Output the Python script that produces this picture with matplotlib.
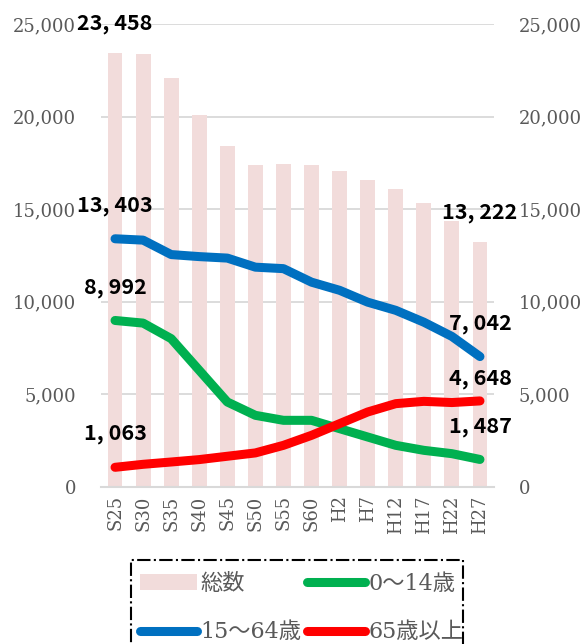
import matplotlib
matplotlib.use("Agg")
import matplotlib.pyplot as plt
from matplotlib.patches import Rectangle, Patch
from matplotlib.lines import Line2D

plt.rcParams["font.family"] = ["DejaVu Serif", "Noto Sans CJK JP"]

categories = ["S25", "S30", "S35", "S40", "S45", "S50", "S55", "S60",
              "H2", "H7", "H12", "H17", "H22", "H27"]
total = [23458, 23370, 22070, 20060, 18400, 17380, 17450, 17360,
         17040, 16550, 16100, 15330, 14340, 13222]
age_0_14 = [8992, 8850, 8010, 6300, 4590, 3870, 3600, 3600,
            3150, 2700, 2250, 1980, 1800, 1487]
age_15_64 = [13403, 13330, 12550, 12440, 12360, 11870, 11790, 11060,
             10620, 9980, 9540, 8900, 8130, 7042]
age_65 = [1063, 1225, 1350, 1480, 1660, 1840, 2250, 2790,
          3420, 4050, 4500, 4625, 4560, 4648]
series_names = ["総数", "0～14歳", "15～64歳", "65歳以上"]
yticks = [0, 5000, 10000, 15000, 20000, 25000]

BAR = "#f2dcdb"
GREEN = "#00b050"
BLUE = "#0070c0"
RED = "#ff0000"
GRAY = "#595959"

fig = plt.figure(figsize=(5.81, 6.44), dpi=100)
ax = fig.add_axes([101/581, 1-487/644, 393/581, 463/644])
x = list(range(len(categories)))

ax.bar(x, total, width=0.53, color=BAR, zorder=2)
lw = 6.5
ax.plot(x, age_15_64, color=BLUE, lw=lw, solid_capstyle="round", solid_joinstyle="round", zorder=3)
ax.plot(x, age_0_14, color=GREEN, lw=lw, solid_capstyle="round", solid_joinstyle="round", zorder=3)
ax.plot(x, age_65, color=RED, lw=lw, solid_capstyle="round", solid_joinstyle="round", zorder=4)

ax.set_xlim(-0.5, len(categories) - 0.5)
ax.set_ylim(0, 25000)
ax.set_yticks(yticks)
ax.set_yticklabels([f"{v:,}" for v in yticks])
ax.set_xticks(x)
ax.set_xticklabels(categories, rotation=90, va="top")
ax.yaxis.grid(True, color="#d9d9d9", lw=1.3, zorder=0)
ax.set_axisbelow(True)
for s in ["top", "left", "right"]:
    ax.spines[s].set_visible(False)
ax.spines["bottom"].set_color("#d9d9d9")
ax.spines["bottom"].set_linewidth(1.5)
ax.tick_params(axis="both", length=0, labelsize=13, labelcolor=GRAY)
ax.tick_params(axis="y", labelright=True, pad=18)
ax.tick_params(axis="x", pad=6)

def fmt(v):
    return f"{v:,}".replace(",", ", ")

lab_font = dict(family=["Noto Sans CJK JP", "DejaVu Sans"], fontsize=15.5,
                fontweight="bold", color="black", ha="center", va="center")
first, last = 0, len(categories) - 1
labels = [
    (first, total[first], 21), (first, age_15_64[first], 24),
    (first, age_0_14[first], 24), (first, age_65[first], 24),
    (last, total[last], 21), (last, age_15_64[last], 24),
    (last, age_65[last], 16), (last, age_0_14[last], 24),
]
for xi, v, off in labels:
    ax.annotate(fmt(v), (xi, v), xytext=(0, off), textcoords="offset points",
                annotation_clip=False, **lab_font)

h_total = Patch(facecolor=BAR, edgecolor="none")
h_0_14 = Line2D([0], [0], color=GREEN, lw=lw, solid_capstyle="round")
h_15_64 = Line2D([0], [0], color=BLUE, lw=lw, solid_capstyle="round")
h_65 = Line2D([0], [0], color=RED, lw=lw, solid_capstyle="round")
# column-major ordering so rows read: 総数, 0～14歳 / 15～64歳, 65歳以上
handles = [h_total, h_15_64, h_0_14, h_65]
names = [series_names[0], series_names[2], series_names[1], series_names[3]]
leg = fig.legend(handles, names, loc="upper left",
                 bbox_to_anchor=(133/581, 1-566/644), ncol=2, frameon=False,
                 prop=dict(family=["DejaVu Serif", "Noto Sans CJK JP"], size=16),
                 handlelength=2.6, handletextpad=0.15, columnspacing=0.25,
                 labelspacing=1.2, borderpad=0.3, borderaxespad=0)
for t in leg.get_texts():
    t.set_color(GRAY)

fig.patches.append(Rectangle((131/581, -0.1), (463-131)/581, 0.1 + (644-560)/644,
                             transform=fig.transFigure, fill=False,
                             edgecolor="black", lw=1.5, linestyle="-."))

fig.savefig("out.png", dpi=100)
